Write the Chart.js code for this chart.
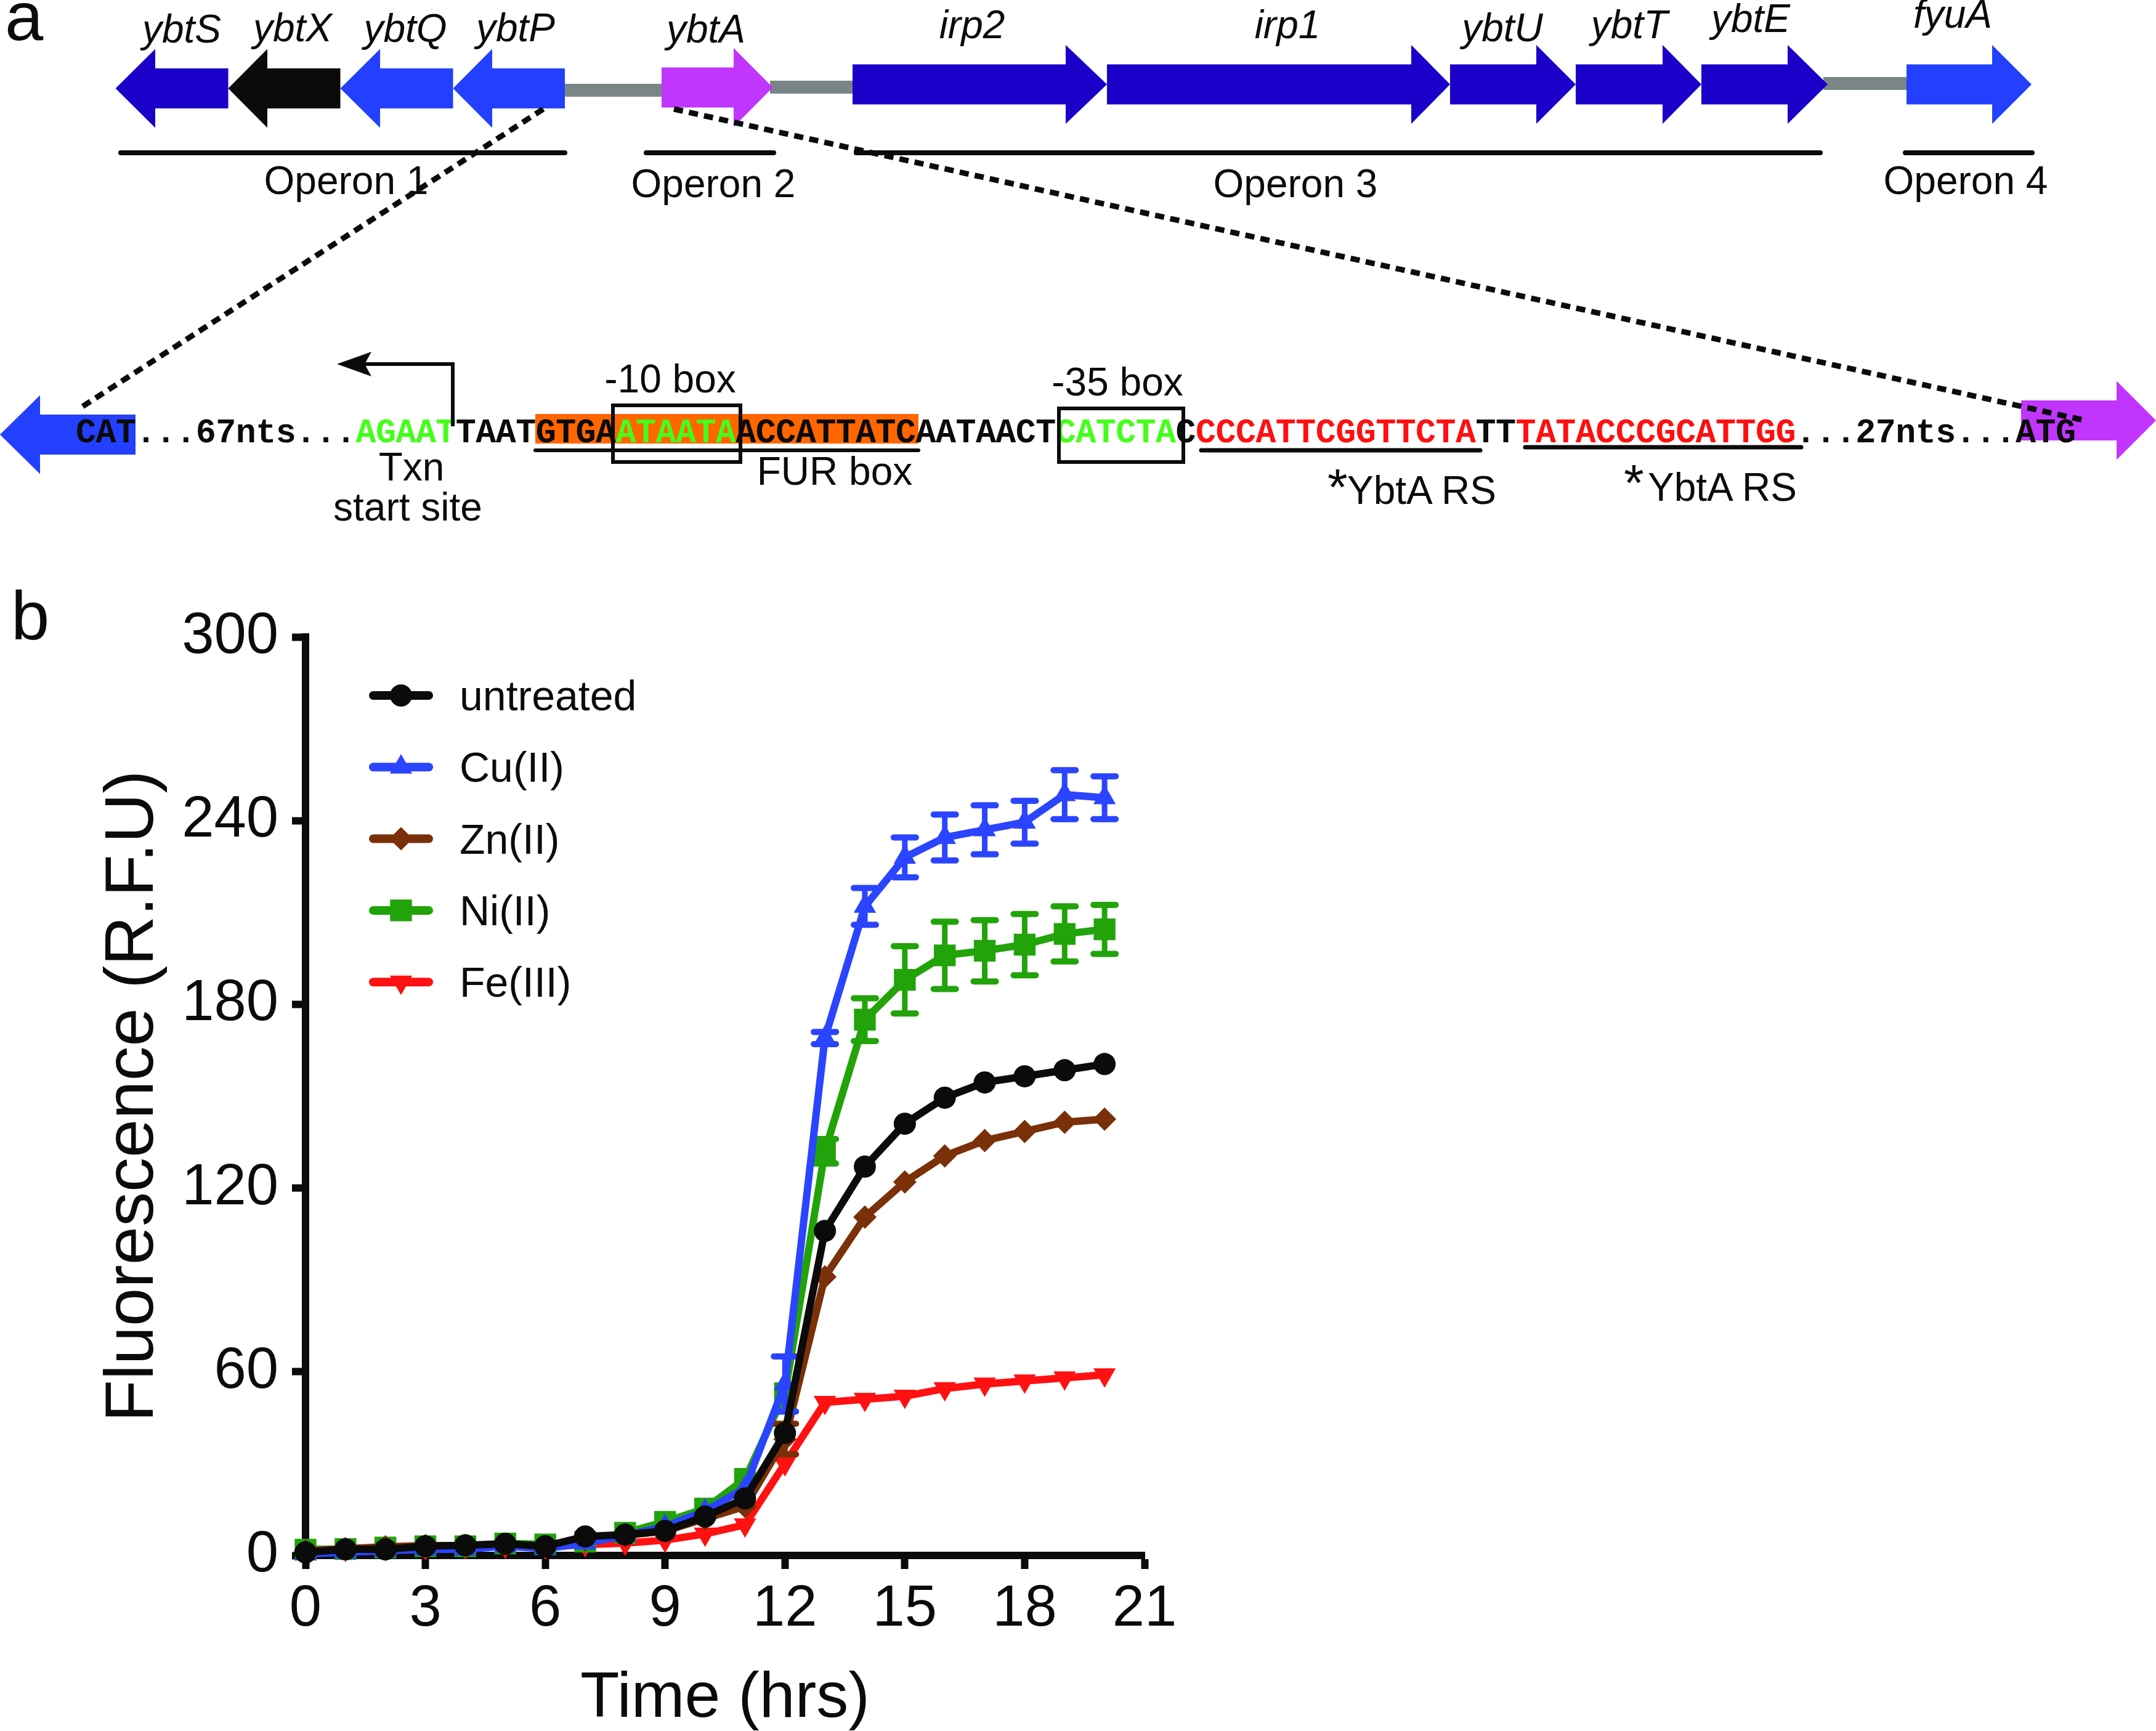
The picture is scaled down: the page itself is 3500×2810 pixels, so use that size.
<!DOCTYPE html>
<html>
<head>
<meta charset="utf-8">
<script src="https://cdn.jsdelivr.net/npm/chart.js@4.4.1/dist/chart.umd.min.js"></script>
<style>
  body { margin: 0; background: #fff; }
  #page { position: relative; width: 3500px; height: 2810px; overflow: hidden; background: #fff; }
  #chartBox { position: absolute; left: 0; top: 940px; width: 2000px; height: 1870px; }
  #art { position: absolute; left: 0; top: 0; }
</style>
</head>
<body>
<div id="page">
  <div id="chartBox"><canvas id="fluorChart" width="2000" height="1870"></canvas></div>
  <svg id="art" width="3500" height="2810" xmlns="http://www.w3.org/2000/svg"></svg>
</div>
<script>
// ---- panel b data ----
const hours = [0, 1, 2, 3, 4, 5, 6, 7, 8, 9, 10, 11, 12, 13, 14, 15, 16, 17, 18, 19, 20];
const untreated = [1.0, 2.0, 2.0, 3.0, 3.3, 3.8, 3.0, 6.2, 6.8, 8.0, 12.7, 18.6, 40, 106, 127, 141, 149.5, 154.5, 156.5, 158.5, 160.5];
const cuII = [0.5, 1.0, 1.5, 2.0, 2.0, 3.0, 2.2, 4.0, 6.5, 9.5, 14.5, 22, 56, 169, 212, 228, 234.5, 237, 239.5, 248.5, 247.5];
const cuErr = [0, 0, 0, 0, 0, 0, 0, 0, 0, 0, 0, 0, 9, 2, 6, 6.5, 7.5, 8, 7, 8, 7];
const znII = [1.5, 2.2, 2.8, 3.2, 3.2, 3.6, 3.0, 5.0, 6.5, 8.0, 12, 16, 38, 91, 110.5, 122, 130.5, 135.5, 138.5, 141.5, 142.5];
const znErr = [0, 0, 0, 0, 0, 0, 0, 0, 0, 0, 0, 0, 5, 0, 0, 0, 0, 0, 0, 0, 0];
const niII = [1.9, 2.1, 2.6, 3.0, 3.0, 3.9, 3.6, 4.5, 7.4, 11, 15.3, 25, 53, 132, 175, 188, 196, 197.5, 199.5, 203, 204.5];
const niErr = [0, 0, 0, 0, 0, 0, 0, 0, 0, 0, 0, 0, 0, 4, 7, 11, 11, 10, 10, 9, 8];
const feIII = [1.5, 2.0, 2.2, 2.5, 2.8, 3.0, 2.8, 3.5, 4.0, 5.0, 7.0, 10, 30, 50, 51, 52, 54.5, 56, 57, 58, 59];
const xTicks = [0, 3, 6, 9, 12, 15, 18, 21];
const yTicks = [0, 60, 120, 180, 240, 300];

const INK = '#0b0b0b';
Chart.defaults.font.family = "'Liberation Sans', Arial, sans-serif";
Chart.defaults.color = INK;

function pts(values) {
  return hours.map((h, i) => ({ x: h, y: values[i] }));
}

function series(label, values, errs, color, style, radius, rotation) {
  return {
    label: label,
    data: pts(values),
    errors: errs,
    borderColor: color,
    backgroundColor: color,
    borderWidth: 12,
    pointStyle: style,
    pointRadius: radius,
    pointRotation: rotation || 0,
    pointBackgroundColor: color,
    pointBorderWidth: 0,
    tension: 0,
    clip: false
  };
}

function drawMarker(ctx, style, x, y, r, rot) {
  ctx.beginPath();
  if (style === 'circle') {
    ctx.arc(x, y, r, 0, Math.PI * 2);
  } else if (style === 'triangle') {
    for (let k = 0; k < 3; k++) {
      const a = (rot || 0) * Math.PI / 180 + k * 2 * Math.PI / 3;
      const px = x + Math.sin(a) * r, py = y - Math.cos(a) * r;
      if (k === 0) ctx.moveTo(px, py); else ctx.lineTo(px, py);
    }
  } else if (style === 'rect') {
    const s = r * Math.SQRT1_2;
    ctx.rect(x - s, y - s, 2 * s, 2 * s);
  } else if (style === 'rectRot') {
    ctx.moveTo(x, y - r); ctx.lineTo(x + r, y); ctx.lineTo(x, y + r); ctx.lineTo(x - r, y);
  }
  ctx.closePath();
  ctx.fill();
}

const errorBars = {
  id: 'errorBars',
  afterDatasetDraw(chart, args) {
    const ds = chart.data.datasets[args.index];
    if (!ds.errors) return;
    const ctx = chart.ctx, xs = chart.scales.x, ys = chart.scales.y;
    ctx.save();
    ctx.strokeStyle = ds.borderColor;
    ctx.lineCap = 'round';
    ds.data.forEach((p, i) => {
      const e = ds.errors[i];
      if (!e) return;
      const x = xs.getPixelForValue(p.x);
      const yt = ys.getPixelForValue(p.y + e), yb = ys.getPixelForValue(p.y - e);
      ctx.lineWidth = 9;
      ctx.beginPath(); ctx.moveTo(x, yt); ctx.lineTo(x, yb); ctx.stroke();
      ctx.lineWidth = 10;
      ctx.beginPath();
      ctx.moveTo(x - 18, yt); ctx.lineTo(x + 18, yt);
      ctx.moveTo(x - 18, yb); ctx.lineTo(x + 18, yb);
      ctx.stroke();
    });
    ctx.restore();
  }
};

const lineLegend = {
  id: 'lineLegend',
  afterDraw(chart) {
    const ctx = chart.ctx, area = chart.chartArea;
    ctx.save();
    chart.data.datasets.forEach((ds, i) => {
      const y = area.top + 95 + i * 116.3;
      const x0 = area.left + 110, x1 = area.left + 200, xm = area.left + 155;
      ctx.strokeStyle = ds.borderColor;
      ctx.fillStyle = ds.borderColor;
      ctx.lineWidth = 14;
      ctx.lineCap = 'round';
      ctx.beginPath(); ctx.moveTo(x0, y); ctx.lineTo(x1, y); ctx.stroke();
      drawMarker(ctx, ds.pointStyle, xm, y, ds.pointRadius, ds.pointRotation);
      ctx.fillStyle = INK;
      ctx.font = "68px 'Liberation Sans', Arial, sans-serif";
      ctx.textBaseline = 'alphabetic';
      ctx.textAlign = 'left';
      ctx.fillText(ds.label, area.left + 250, y + 24);
    });
    ctx.restore();
  }
};

new Chart(document.getElementById('fluorChart'), {
  type: 'line',
  data: {
    datasets: [
      series('untreated', untreated, null, INK, 'circle', 18),
      series('Cu(II)', cuII, cuErr, '#2a44ff', 'triangle', 21),
      series('Zn(II)', znII, znErr, '#7a3008', 'rectRot', 19),
      series('Ni(II)', niII, niErr, '#22a30a', 'rect', 25),
      series('Fe(III)', feIII, null, '#ff1111', 'triangle', 21, 180)
    ]
  },
  options: {
    responsive: false,
    animation: false,
    devicePixelRatio: 1,
    layout: { padding: { top: 94, right: 142, left: 0, bottom: 0 } },
    plugins: { legend: { display: false }, tooltip: { enabled: false } },
    scales: {
      x: {
        type: 'linear',
        min: 0,
        max: 21,
        afterFit(scale) { scale.height = 285; },
        afterBuildTicks(scale) { scale.ticks = xTicks.map(v => ({ value: v })); },
        ticks: { font: { size: 94 }, color: INK, padding: 10, maxRotation: 0, autoSkip: false },
        grid: { drawOnChartArea: false, tickLength: 22, tickWidth: 12, tickColor: INK },
        border: { width: 12, color: INK },
        title: { display: true, text: 'Time (hrs)', color: INK, font: { size: 104, lineHeight: 1 }, padding: 0 }
      },
      y: {
        min: 0,
        max: 300,
        afterFit(scale) { scale.width = 496; },
        afterBuildTicks(scale) { scale.ticks = yTicks.map(v => ({ value: v })); },
        ticks: { font: { size: 94 }, color: INK, padding: 22, autoSkip: false },
        grid: { drawOnChartArea: false, tickLength: 22, tickWidth: 12, tickColor: INK },
        border: { width: 12, color: INK },
        title: { display: true, text: 'Fluorescence (R.F.U)', color: INK, font: { size: 112, lineHeight: 1.2 }, padding: { top: 150, bottom: 0 } }
      }
    }
  },
  plugins: [errorBars, lineLegend]
});

// ---- panel a: gene map and promoter sequence (static artwork) ----
const svg = document.getElementById('art');
const NS = 'http://www.w3.org/2000/svg';
function el(tag, attrs, text) {
  const n = document.createElementNS(NS, tag);
  for (const k in attrs) n.setAttribute(k, attrs[k]);
  if (text !== undefined) n.textContent = text;
  svg.appendChild(n);
  return n;
}
function arrow(tail, base, tip, cy, color) {
  const bh = 32.5, hh = 64;
  const p = [[tail, cy - bh], [base, cy - bh], [base, cy - hh], [tip, cy], [base, cy + hh], [base, cy + bh], [tail, cy + bh]];
  el('polygon', { points: p.map(q => q.join(',')).join(' '), fill: color });
}
const SANS = "'Liberation Sans', Arial, sans-serif";
const DARK = '#1a00c8', LIGHT = '#2340ff', PINK = '#c036ff', GREY = '#7a8686';

el('text', { x: 8, y: 65, 'font-family': SANS, 'font-size': 112, fill: INK }, 'a');
el('text', { x: 18, y: 1038, 'font-family': SANS, 'font-size': 112, fill: INK }, 'b');

// spacer lines between genes
el('rect', { x: 910, y: 136, width: 170, height: 21, fill: GREY });
el('rect', { x: 1250, y: 131, width: 140, height: 21, fill: GREY });
el('rect', { x: 2960, y: 125, width: 140, height: 21, fill: GREY });

const genes = [
  ['ybtS', 370.5, 252, 187.5, 143.5, DARK, 295, 69],
  ['ybtX', 552.5, 434, 370.5, 143.5, INK, 475, 67],
  ['ybtQ', 735.5, 617, 552.5, 143.5, LIGHT, 658, 68],
  ['ybtP', 917, 799, 735.5, 143.5, LIGHT, 837, 67],
  ['ybtA', 1074, 1191, 1254.5, 142, PINK, 1146, 69],
  ['irp2', 1384, 1730, 1797, 137, DARK, 1578, 62],
  ['irp1', 1797, 2291, 2354, 137, DARK, 2090, 62],
  ['ybtU', 2354, 2494, 2558, 137, DARK, 2439, 67],
  ['ybtT', 2558, 2699, 2762, 137, DARK, 2645, 62],
  ['ybtE', 2762, 2902, 2967, 137, DARK, 2842, 52],
  ['fyuA', 3095, 3234, 3298, 137, LIGHT, 3170, 45]
];
genes.forEach(g => {
  arrow(g[1], g[2], g[3], g[4], g[5]);
  el('text', { x: g[6], y: g[7], 'font-family': SANS, 'font-style': 'italic', 'font-size': 64, 'text-anchor': 'middle', fill: INK }, g[0]);
});

[[196, 917, 'Operon 1', 562, 315], [1049, 1256, 'Operon 2', 1158, 320], [1390, 2955, 'Operon 3', 2103, 320], [3093, 3299, 'Operon 4', 3191, 315]].forEach(o => {
  el('line', { x1: o[0], y1: 248, x2: o[1], y2: 248, stroke: INK, 'stroke-width': 8, 'stroke-linecap': 'round' });
  el('text', { x: o[3], y: o[4], 'font-family': SANS, 'font-size': 64, 'text-anchor': 'middle', fill: INK }, o[2]);
});

// promoter row
arrow(220, 65, 0, 705.5, LIGHT);
arrow(3281, 3436, 3500, 682.5, PINK);
el('rect', { x: 869, y: 672, width: 622, height: 48, fill: '#ff6600' });

const seqParts = [
  ['CAT...67nts...', INK], ['AGAAT', '#44ff1a'], ['TAATGTGA', INK], ['ATAATA', '#44ff1a'],
  ['ACCATTATCAATAACT', INK], ['CATCTA', '#44ff1a'], ['C', INK], ['CCCATTCGGTTCTA', '#ff1010'],
  ['TT', INK], ['TATACCCGCATTGG', '#ff1010'], ['...27nts...ATG', INK]
];
const seq = el('text', { x: 123, y: 718, 'font-family': "'Liberation Mono', 'DejaVu Sans Mono', monospace", 'font-weight': 'bold', 'font-size': 55, textLength: 3247, lengthAdjust: 'spacing' });
seqParts.forEach(s => {
  const t = document.createElementNS(NS, 'tspan');
  t.setAttribute('fill', s[1]);
  t.textContent = s[0];
  seq.appendChild(t);
});

el('rect', { x: 995, y: 658, width: 207, height: 92, fill: 'none', stroke: INK, 'stroke-width': 6 });
el('rect', { x: 1719, y: 663, width: 202, height: 87, fill: 'none', stroke: INK, 'stroke-width': 6 });
el('line', { x1: 869, y1: 731, x2: 1491, y2: 731, stroke: INK, 'stroke-width': 6, 'stroke-linecap': 'round' });
el('line', { x1: 1950, y1: 731, x2: 2403, y2: 731, stroke: INK, 'stroke-width': 7, 'stroke-linecap': 'round' });
el('line', { x1: 2476, y1: 726, x2: 2924, y2: 726, stroke: INK, 'stroke-width': 7, 'stroke-linecap': 'round' });

const lab = (x, y, t, anchor, size) => el('text', { x: x, y: y, 'font-family': SANS, 'font-size': size || 64, 'text-anchor': anchor || 'middle', fill: INK }, t);
lab(1088, 637, '-10 box');
lab(1814, 642, '-35 box');
lab(1355, 787, 'FUR box');
lab(668, 780, 'Txn');
lab(662, 845, 'start site');
lab(2155, 820, '*', 'start', 84);
lab(2187, 818, 'YbtA RS', 'start');
lab(2636, 813, '*', 'start', 84);
lab(2675, 813, 'YbtA RS', 'start');

// transcription start arrow
el('polyline', { points: '735,692 735,591 585,591', fill: 'none', stroke: INK, 'stroke-width': 6 });
el('polygon', { points: '547,591 603,571 592,591 603,611', fill: INK });

// zoom-in dashed guides
el('line', { x1: 882, y1: 177, x2: 126, y2: 665, stroke: INK, 'stroke-width': 9, 'stroke-dasharray': '15 10' });
el('line', { x1: 1094, y1: 177, x2: 3387, y2: 683, stroke: INK, 'stroke-width': 9, 'stroke-dasharray': '15 10' });
</script>
</body>
</html>
